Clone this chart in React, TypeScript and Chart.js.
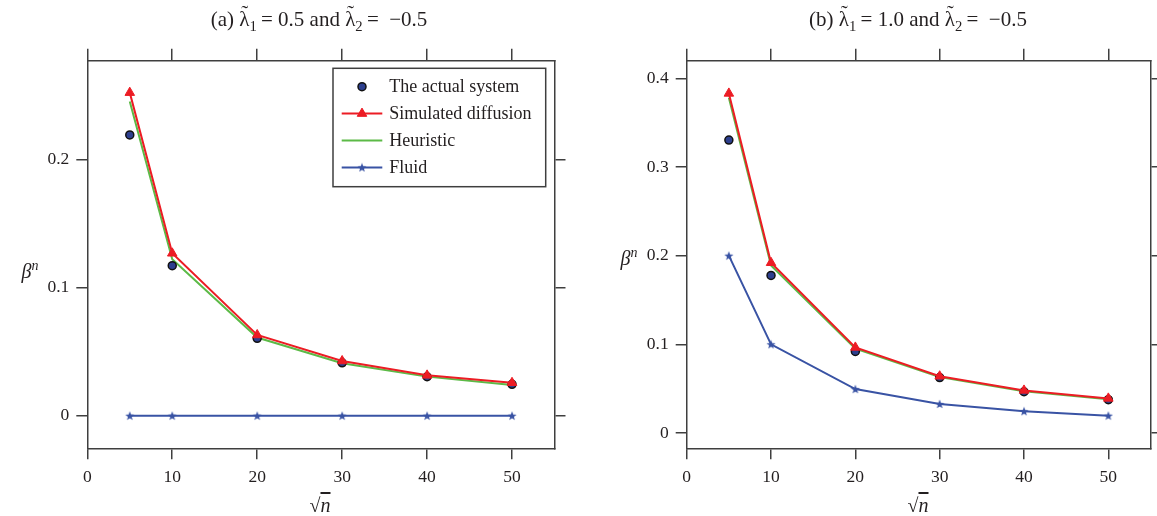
import React, { useEffect, useRef } from 'react';
import { Chart, registerables } from 'chart.js';
import { drawPoint } from 'chart.js/helpers';

Chart.register(...registerables);

// ---------------- data ----------------
const sqrtN = [5, 10, 20, 30, 40, 50];
const xTickValues = [0, 10, 20, 30, 40, 50];
const seriesLabels = ['The actual system', 'Simulated diffusion', 'Heuristic', 'Fluid'];

// panel (a)
const actualA = [0.219, 0.117, 0.0604, 0.0413, 0.0304, 0.0245];
const diffusionA = [0.252, 0.1267, 0.063, 0.0427, 0.0315, 0.0257];
const heuristicA = [0.245, 0.122, 0.061, 0.041, 0.0305, 0.024];
const fluidA = [0, 0, 0, 0, 0, 0];
const yTicksA = [0, 0.1, 0.2];

// panel (b)
const actualB = [0.3304, 0.1777, 0.092, 0.0625, 0.0465, 0.0375];
const diffusionB = [0.383, 0.192, 0.0965, 0.064, 0.048, 0.039];
const heuristicB = [0.378, 0.189, 0.095, 0.063, 0.047, 0.038];
const fluidB = [0.2, 0.1, 0.0495, 0.0327, 0.0245, 0.0195];
const yTicksB = [0, 0.1, 0.2, 0.3, 0.4];

const panelTags = ['(a)', '(b)'];
const lambda1Values = ['0.5', '1.0'];
const lambda2Values = ['\u22120.5', '\u22120.5'];

// ---------------- styles ----------------
const FONT = '"Liberation Serif", "Times New Roman", serif';
const TEXT = '#231f20';
const AXIS = '#3f3f3f';
const NAVY = '#2d3f8e';
const RED = '#ec1c24';
const GREEN = '#5cba47';
const BLUE = '#3953a4';

const toPoints = (ys: number[]) => sqrtN.map((x, i) => ({ x, y: ys[i] }));

let starImage: HTMLCanvasElement | null = null;
function getStar(): HTMLCanvasElement {
  if (starImage) return starImage;
  const c = document.createElement('canvas');
  const s = 10;
  c.width = s;
  c.height = s;
  const ctx = c.getContext('2d') as CanvasRenderingContext2D;
  const cx = s / 2, cy = s / 2 + 0.4, R = 4.8, r = 2.0;
  ctx.beginPath();
  for (let k = 0; k < 10; k++) {
    const rad = (Math.PI / 5) * k - Math.PI / 2;
    const rr = k % 2 === 0 ? R : r;
    const px = cx + Math.cos(rad) * rr;
    const py = cy + Math.sin(rad) * rr;
    if (k === 0) ctx.moveTo(px, py);
    else ctx.lineTo(px, py);
  }
  ctx.closePath();
  ctx.fillStyle = BLUE;
  ctx.fill();
  starImage = c;
  return c;
}

const legendPlugin = {
  id: 'boxLegend',
  afterDraw(chart: any, _args: any, opts: any) {
    if (!opts || !opts.show) return;
    const ctx = chart.ctx as CanvasRenderingContext2D;
    const { left, top, width, height, firstRow, rowGap, lineStart, lineLen, textX } = opts;
    ctx.save();
    ctx.fillStyle = '#ffffff';
    ctx.fillRect(left, top, width, height);
    ctx.strokeStyle = AXIS;
    ctx.lineWidth = 1.5;
    ctx.strokeRect(left, top, width, height);
    chart.data.datasets.forEach((ds: any, i: number) => {
      const y = top + firstRow + i * rowGap;
      if (ds.showLine !== false) {
        ctx.beginPath();
        ctx.strokeStyle = ds.borderColor;
        ctx.lineWidth = ds.borderWidth;
        ctx.moveTo(lineStart, y);
        ctx.lineTo(lineStart + lineLen, y);
        ctx.stroke();
      }
      if (ds.pointRadius > 0) {
        ctx.fillStyle = ds.pointBackgroundColor;
        ctx.strokeStyle = ds.pointBorderColor;
        ctx.lineWidth = ds.pointBorderWidth;
        drawPoint(ctx, { pointStyle: ds.pointStyle, rotation: 0, radius: ds.pointRadius, borderWidth: ds.pointBorderWidth }, lineStart + lineLen / 2, y);
      }
      ctx.fillStyle = TEXT;
      ctx.font = `18px ${FONT}`;
      ctx.textBaseline = 'middle';
      ctx.textAlign = 'left';
      ctx.fillText(ds.label, textX, y + 1);
    });
    ctx.restore();
  },
};

type PanelCfg = {
  actual: number[];
  diffusion: number[];
  heuristic: number[];
  fluid: number[];
  yTicks: number[];
  yMin: number;
  yMax: number;
  leftWidth: number;
  rightWidth: number;
  legend: boolean;
};

function buildConfig(p: PanelCfg): any {
  const gridOpts = { drawOnChartArea: false, drawTicks: true, tickLength: 11, color: AXIS, lineWidth: 1.5 };
  const borderOpts = { display: true, color: AXIS, width: 1.5 };
  const tickFont = { family: FONT, size: 17.5 };
  return {
    type: 'line',
    data: {
      datasets: [
        {
          label: seriesLabels[0], data: toPoints(p.actual), showLine: false, order: 1,
          pointStyle: 'circle', pointRadius: 4, pointBorderWidth: 1.5,
          pointBackgroundColor: NAVY, pointBorderColor: '#111111', borderColor: NAVY, borderWidth: 0,
        },
        {
          label: seriesLabels[1], data: toPoints(p.diffusion), order: 0,
          borderColor: RED, borderWidth: 2, pointStyle: 'triangle', pointRadius: 5.5, pointBorderWidth: 1,
          pointBackgroundColor: RED, pointBorderColor: RED,
        },
        {
          label: seriesLabels[2], data: toPoints(p.heuristic), order: 2,
          borderColor: GREEN, borderWidth: 2, pointRadius: 0,
        },
        {
          label: seriesLabels[3], data: toPoints(p.fluid), order: 3,
          borderColor: BLUE, borderWidth: 2, pointStyle: getStar(), pointRadius: 4, pointBorderWidth: 0,
          pointBackgroundColor: BLUE, pointBorderColor: BLUE,
        },
      ],
    },
    options: {
      animation: false,
      responsive: false,
      maintainAspectRatio: false,
      devicePixelRatio: 1,
      layout: { padding: { top: 48.7, left: 0, right: 0, bottom: 0 } },
      elements: { line: { tension: 0 } },
      plugins: {
        legend: { display: false },
        tooltip: { enabled: false },
        title: { display: false },
        boxLegend: {
          show: p.legend, left: 333, top: 68.3, width: 212.7, height: 118.4,
          firstRow: 18.4, rowGap: 26.9, lineStart: 341.7, lineLen: 40.6, textX: 389.3,
        },
      },
      scales: {
        x: {
          type: 'linear', position: 'bottom', min: 0, max: 55,
          afterBuildTicks: (s: any) => { s.ticks = xTickValues.map((v) => ({ value: v })); },
          afterFit: (s: any) => { s.height = 67.7; },
          grid: gridOpts, border: borderOpts,
          ticks: { font: tickFont, color: TEXT, padding: 8, maxRotation: 0, autoSkip: false, callback: (v: any) => String(v) },
        },
        x2: {
          type: 'linear', position: 'top', min: 0, max: 55,
          afterBuildTicks: (s: any) => { s.ticks = xTickValues.map((v) => ({ value: v })); },
          afterFit: (s: any) => { s.height = 12; },
          grid: { ...gridOpts, tickLength: 12 }, border: borderOpts,
          ticks: { display: false },
        },
        y: {
          type: 'linear', position: 'left', min: p.yMin, max: p.yMax,
          afterBuildTicks: (s: any) => { s.ticks = p.yTicks.map((v) => ({ value: v })); },
          afterFit: (s: any) => { s.width = p.leftWidth; },
          grid: gridOpts, border: borderOpts,
          ticks: { font: tickFont, color: TEXT, padding: 7, autoSkip: false, callback: (v: any) => String(v) },
        },
        y2: {
          type: 'linear', position: 'right', min: p.yMin, max: p.yMax,
          afterBuildTicks: (s: any) => { s.ticks = p.yTicks.map((v) => ({ value: v })); },
          afterFit: (s: any) => { s.width = p.rightWidth; },
          grid: gridOpts, border: borderOpts,
          ticks: { display: false },
        },
      },
    },
    plugins: [legendPlugin],
  };
}

function Panel({ cfg, left, width }: { cfg: PanelCfg; left: number; width: number }) {
  const ref = useRef<HTMLCanvasElement>(null);
  useEffect(() => {
    const chart = new Chart(ref.current as HTMLCanvasElement, buildConfig(cfg));
    return () => chart.destroy();
  }, []);
  return (
    <canvas
      ref={ref}
      width={width}
      height={516}
      style={{ position: 'absolute', left, top: 0, width, height: 516 }}
    />
  );
}

const labelBase: React.CSSProperties = {
  position: 'absolute',
  transform: 'translate(-50%, -50%)',
  whiteSpace: 'nowrap',
  fontFamily: FONT,
  color: TEXT,
  lineHeight: 1,
};

const subStyle: React.CSSProperties = { fontSize: '70%', position: 'relative', top: '0.35em' };

function Lambda() {
  return (
    <span style={{ position: 'relative', display: 'inline-block' }}>
      {'\u03bb'}
      <span style={{ position: 'absolute', left: '50%', top: '-0.3em', transform: 'translateX(-45%)' }}>{'\u02dc'}</span>
    </span>
  );
}

function Title({ i, cx }: { i: number; cx: number }) {
  return (
    <div style={{ ...labelBase, left: cx, top: 19, fontSize: 21 }}>
      {panelTags[i]} <Lambda />
      <span style={subStyle}>1</span>
      {'\u2009= '}
      {lambda1Values[i]}
      {' and '}
      <Lambda />
      <span style={subStyle}>2</span>
      {'\u2009=\u2002'}
      {lambda2Values[i]}
    </div>
  );
}

function XTitle({ cx }: { cx: number }) {
  return (
    <div style={{ ...labelBase, left: cx, top: 505, fontSize: 20 }}>
      {'\u221a'}
      <span style={{ fontStyle: 'italic', textDecoration: 'overline' }}>n</span>
    </div>
  );
}

function YTitle({ cx, cy }: { cx: number; cy: number }) {
  return (
    <div style={{ ...labelBase, left: cx, top: cy, fontSize: 20 }}>
      <span style={{ fontStyle: 'italic' }}>{'\u03b2'}</span>
      <span style={{ fontStyle: 'italic', fontSize: '70%', position: 'relative', top: '-0.55em' }}>n</span>
    </div>
  );
}

const panelA: PanelCfg = {
  actual: actualA, diffusion: diffusionA, heuristic: heuristicA, fluid: fluidA,
  yTicks: yTicksA, yMin: -0.0254, yMax: 0.2769, leftWidth: 87.3, rightWidth: 23.5, legend: true,
};
const panelB: PanelCfg = {
  actual: actualB, diffusion: diffusionB, heuristic: heuristicB, fluid: fluidB,
  yTicks: yTicksB, yMin: -0.0173, yMax: 0.4199, leftWidth: 108.7, rightWidth: 6.5, legend: false,
};

export default function App() {
  return (
    <div style={{ position: 'absolute', left: 0, top: 0, width: 1157, height: 516, background: '#fff', overflow: 'hidden' }}>
      <Panel cfg={panelA} left={0} width={578} />
      <Panel cfg={panelB} left={578} width={579} />
      <Title i={0} cx={319} />
      <Title i={1} cx={918} />
      <XTitle cx={320} />
      <XTitle cx={918} />
      <YTitle cx={30} cy={271} />
      <YTitle cx={629} cy={258} />
    </div>
  );
}
